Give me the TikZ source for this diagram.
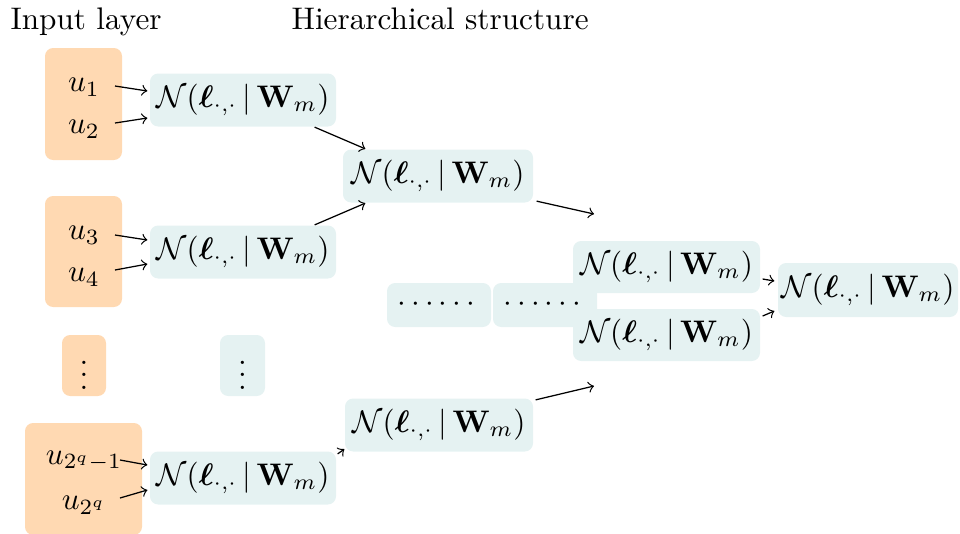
\documentclass[tikz,border=0pt]{standalone}
\usepackage{amsmath,bm}
\usetikzlibrary{calc}
\def\PX{0.3204pt}
\newcommand\NLab{$\mathcal{N}(\bm{\ell}_{\cdot,\cdot}\,|\,\mathbf{W}_m)$}
\tikzset{
  inbox/.style={fill=orange!30, rounded corners=2.6pt, inner sep=0pt},
  lbox/.style={fill=teal!10, rounded corners=2.6pt, inner sep=0pt},
  nbox/.style={lbox, minimum width=186*\PX, minimum height=53*\PX},
  unode/.style={inner sep=0pt},
  arr/.style={->, line width=0.4pt},
}
\begin{document}
\begin{tikzpicture}[x=0.3204pt,y=-0.3204pt]
\useasboundingbox (0,0) rectangle (960,533);
% titles
\node[anchor=base west, inner sep=0pt] (t1) at (10,29) {Input layer};
\node[anchor=base west, inner sep=0pt] (t2) at (291,29) {Hierarchical structure};
% input boxes
\node[inbox, minimum width=77*\PX, minimum height=112*\PX] (in1) at (83.5,104) {};
\node[inbox, minimum width=77*\PX, minimum height=111*\PX] (in2) at (83.5,251.5) {};
\node[inbox, minimum width=44*\PX, minimum height=61*\PX] (in3) at (84,365.5) {$\vdots$};
\node[inbox, minimum width=117*\PX, minimum height=112*\PX] (in4) at (83.5,479) {};
% inputs
\node[unode] (u1) at (84,87) {$u_1$};
\node[unode] (u2) at (84,129) {$u_2$};
\node[unode] (u3) at (84,235) {$u_3$};
\node[unode] (u4) at (84,277) {$u_4$};
\node[unode] (u5) at (84,461) {$u_{2^q-1}$};
\node[unode] (u6) at (84,505) {$u_{2^q}$};
% first level
\node[nbox] (a1) at (243,100) {\NLab};
\node[nbox] (a2) at (243,252) {\NLab};
\node[lbox, minimum width=45*\PX, minimum height=61*\PX] (a3) at (242.5,365.5) {$\vdots$};
\node[nbox] (a4) at (243,478) {\NLab};
% second level
\node[nbox, minimum width=190*\PX] (b1) at (438,176) {\NLab};
\node[nbox, minimum width=188*\PX] (b2) at (439,425) {\NLab};
\node[lbox, minimum width=104*\PX, minimum height=44*\PX] (d1) at (439,305) {$\cdots\cdots$};
\node[lbox, minimum width=104*\PX, minimum height=44*\PX] (d2) at (545,305) {$\cdots\cdots$};
% third level
\node[nbox, minimum width=187*\PX, minimum height=52*\PX] (c1) at (666.5,267) {\NLab};
\node[nbox, minimum width=187*\PX, minimum height=52*\PX] (c2) at (666.5,335) {\NLab};
\node[nbox, minimum width=180*\PX, minimum height=54*\PX] (d) at (868,290) {\NLab};
% free ends
\coordinate (e1) at (594,214);
\coordinate (e2) at (594,386);
% arrows
\draw[arr] ($(u1)+(31,-1)$) -- ($(a1.west)+(-2,-9)$);
\draw[arr] ($(u2)+(31,-6)$) -- ($(a1.west)+(-2,18)$);
\draw[arr] ($(u3)+(31,0)$) -- ($(a2.west)+(-2,-12)$);
\draw[arr] ($(u4)+(31,-7)$) -- ($(a2.west)+(-2,12)$);
\draw[arr] ($(u5)+(36,-1)$) -- ($(a4.west)+(-2,-13)$);
\draw[arr] ($(u6)+(36,-7)$) -- ($(a4.west)+(-2,12)$);
\draw[arr] ($(a1.south east)+(-22,0)$) -- ($(b1.north west)+(23,0)$);
\draw[arr] ($(a2.north east)+(-22,0)$) -- ($(b1.south west)+(23,0)$);
\draw[arr] ($(a4.north east)+(1,3)$) -- ($(b2.south west)+(0,-3)$);
\draw[arr] ($(b1.south east)+(3,-2)$) -- (e1);
\draw[arr] ($(b2.north east)+(2,2)$) -- (e2);
\draw[arr] ($(c1.east)+(2,12)$) -- ($(d.west)+(-3,-9)$);
\draw[arr] ($(c2.east)+(2,-19)$) -- ($(d.west)+(-3,21)$);
\end{tikzpicture}
\end{document}
